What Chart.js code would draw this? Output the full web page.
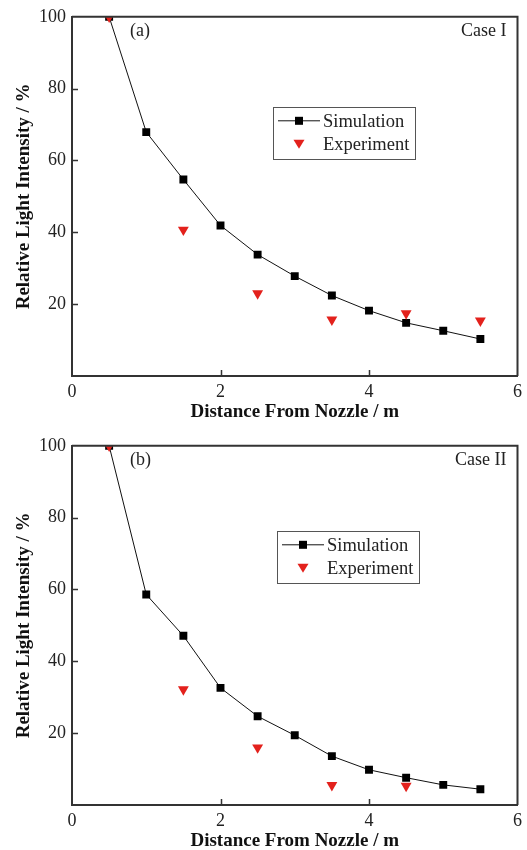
<!DOCTYPE html>
<html>
<head>
<meta charset="utf-8">
<script src="https://cdn.jsdelivr.net/npm/chart.js@4.4.1/dist/chart.umd.min.js"></script>
<style>
  html, body { margin: 0; padding: 0; background: #fff; overflow: hidden; width: 527px; height: 850px; }
  .wrap { position: absolute; left: 0; width: 527px; height: 425px; }
  canvas { display: block; }
</style>
</head>
<body>
<div class="wrap" style="top:0px"><canvas id="c1" width="527" height="425"></canvas></div>
<div class="wrap" style="top:429px"><canvas id="c2" width="527" height="425"></canvas></div>
<script>
// ---- Data ----
const simDistance = [0.5, 1.0, 1.5, 2.0, 2.5, 3.0, 3.5, 4.0, 4.5, 5.0, 5.5];
const simCaseI  = [100, 67.9, 54.7, 41.9, 33.8, 27.8, 22.4, 18.2, 14.8, 12.6, 10.3];
const simCaseII = [100, 58.6, 47.1, 32.6, 24.7, 19.4, 13.6, 9.8, 7.6, 5.6, 4.4];

const expDistanceI  = [0.5, 1.5, 2.5, 3.5, 4.5, 5.5];
const expCaseI      = [100, 40.7, 23.0, 15.7, 17.4, 15.4];
const expDistanceII = [0.5, 1.5, 2.5, 3.5, 4.5];
const expCaseII     = [100, 32.2, 16.0, 5.5, 5.3];

const xTicks = [0, 2, 4, 6];
const yTicks = [20, 40, 60, 80, 100];

const xTitle = 'Distance From Nozzle / m';
const yTitle = 'Relative Light Intensity / %';
const seriesNames = ['Simulation', 'Experiment'];
const panelLabels = ['(a)', '(b)'];
const caseLabels = ['Case I', 'Case II'];

// ---- Styling ----
const SERIF = '"Liberation Serif", "Times New Roman", serif';
const AXIS = '#333333';
const RED = '#e3211c';

const framePlugin = {
  id: 'frame',
  afterDraw(chart, args, opts) {
    const ctx = chart.ctx;
    const a = chart.chartArea;
    const xs = chart.scales.x, ys = chart.scales.y;
    ctx.save();
    // top & right frame lines
    ctx.strokeStyle = AXIS;
    ctx.lineWidth = 2;
    ctx.beginPath();
    ctx.moveTo(a.left, a.top); ctx.lineTo(a.right, a.top); ctx.lineTo(a.right, a.bottom);
    ctx.stroke();
    // inward tick marks
    ctx.lineWidth = 1.5;
    ctx.beginPath();
    xTicks.forEach(v => {
      if (v === xs.min || v === xs.max) return;
      const px = Math.round(xs.getPixelForValue(v)) + 0.5;
      ctx.moveTo(px, a.bottom); ctx.lineTo(px, a.bottom - 6);
    });
    yTicks.forEach(v => {
      if (v === ys.max) return;
      const py = Math.round(ys.getPixelForValue(v)) + 0.5;
      ctx.moveTo(a.left, py); ctx.lineTo(a.left + 6, py);
    });
    ctx.stroke();

    // panel label and case label
    ctx.fillStyle = '#222';
    ctx.font = '18px ' + SERIF;
    ctx.textBaseline = 'middle';
    ctx.textAlign = 'left';
    ctx.fillText(opts.panel, a.left + 58, a.top + 14);
    ctx.textAlign = 'right';
    ctx.fillText(opts.caseText, a.right - 11, a.top + 14);

    // legend
    const lx = a.left + opts.legendX, ly = a.top + opts.legendY;
    const lw = 142, lh = 52;
    ctx.strokeStyle = '#555';
    ctx.lineWidth = 1;
    ctx.strokeRect(Math.round(lx) + 0.5, Math.round(ly) + 0.5, lw, lh);
    const r1 = ly + 14, r2 = ly + 37;
    const mx = lx + 26;
    ctx.strokeStyle = '#111';
    ctx.lineWidth = 1;
    ctx.beginPath();
    ctx.moveTo(lx + 5, r1); ctx.lineTo(lx + 47, r1);
    ctx.stroke();
    ctx.fillStyle = '#000';
    ctx.fillRect(mx - 4, r1 - 4, 8, 8);
    ctx.fillStyle = RED;
    ctx.beginPath();
    ctx.moveTo(mx - 5.5, r2 - 4); ctx.lineTo(mx + 5.5, r2 - 4); ctx.lineTo(mx, r2 + 5);
    ctx.closePath(); ctx.fill();
    ctx.fillStyle = '#222';
    ctx.font = '18.5px ' + SERIF;
    ctx.textAlign = 'left';
    ctx.fillText(seriesNames[0], lx + 50, r1 + 1);
    ctx.fillText(seriesNames[1], lx + 50, r2 + 1);
    ctx.restore();
  }
};

function makeChart(id, simData, expX, expY, panel, caseText, legendX, legendY) {
  const simPoints = simDistance.map((x, i) => ({ x: x, y: simData[i] }));
  const expPoints = expX.map((x, i) => ({ x: x, y: expY[i] }));
  return new Chart(document.getElementById(id), {
    type: 'line',
    data: {
      datasets: [
        {
          label: seriesNames[1],
          data: expPoints,
          showLine: false,
          pointStyle: 'triangle',
          rotation: 180,
          pointRadius: 6.3,
          pointBackgroundColor: RED,
          pointBorderColor: RED,
          pointBorderWidth: 0,
          order: 0
        },
        {
          label: seriesNames[0],
          data: simPoints,
          borderColor: '#111',
          borderWidth: 1,
          pointStyle: 'rect',
          pointRadius: 5.6,
          pointBackgroundColor: '#000',
          pointBorderColor: '#000',
          pointBorderWidth: 0,
          tension: 0,
          order: 1
        }
      ]
    },
    options: {
      responsive: false,
      animation: false,
      devicePixelRatio: 1,
      layout: { padding: { top: 16, right: 8, left: 0, bottom: 0 } },
      plugins: {
        legend: { display: false },
        tooltip: { enabled: false },
        frame: { panel: panel, caseText: caseText, legendX: legendX, legendY: legendY }
      },
      scales: {
        x: {
          type: 'linear',
          min: 0, max: 6,
          afterBuildTicks: s => { s.ticks = xTicks.map(v => ({ value: v })); },
          afterFit: s => { s.height = 49; },
          grid: { display: false, drawTicks: false },
          border: { display: true, color: AXIS, width: 2 },
          ticks: { color: '#222', font: { family: SERIF, size: 18 }, padding: 5, maxRotation: 0 },
          title: { display: true, text: xTitle, color: '#111',
                   font: { family: SERIF, size: 19, weight: 'bold' }, padding: { top: 0, bottom: 2 } }
        },
        y: {
          type: 'linear',
          min: 0, max: 100,
          afterBuildTicks: s => { s.ticks = yTicks.map(v => ({ value: v })); },
          afterFit: s => { s.width = 72; },
          grid: { display: false, drawTicks: false },
          border: { display: true, color: AXIS, width: 2 },
          ticks: { color: '#222', font: { family: SERIF, size: 18 }, padding: 6 },
          title: { display: true, text: yTitle, color: '#111',
                   font: { family: SERIF, size: 19, weight: 'bold' }, padding: { top: 13, bottom: 0 } }
        }
      }
    },
    plugins: [framePlugin]
  });
}

makeChart('c1', simCaseI, expDistanceI, expCaseI, panelLabels[0], caseLabels[0], 201, 90);
makeChart('c2', simCaseII, expDistanceII, expCaseII, panelLabels[1], caseLabels[1], 205, 85);
</script>
</body>
</html>
